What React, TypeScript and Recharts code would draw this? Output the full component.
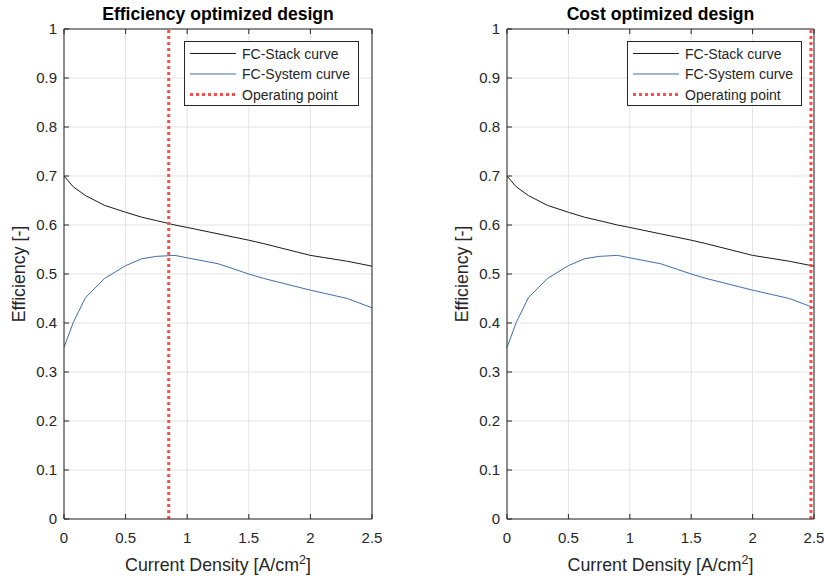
import React from 'react';
import {
  LineChart,
  Line,
  XAxis,
  YAxis,
  CartesianGrid,
  Legend,
  Label,
} from 'recharts';

// current density samples [A/cm2], shared by both panels
const currentDensity = [0, 0.075, 0.175, 0.33, 0.5, 0.63, 0.75, 0.9, 1.0, 1.25, 1.5, 1.62, 2.0, 2.3, 2.5];
const stackEff = [0.7, 0.678, 0.66, 0.64, 0.626, 0.616, 0.609, 0.6, 0.595, 0.582, 0.569, 0.562, 0.538, 0.526, 0.516];
const systemEff = [0.35, 0.401, 0.452, 0.491, 0.517, 0.531, 0.536, 0.538, 0.533, 0.521, 0.5, 0.491, 0.467, 0.45, 0.431];

const panelTitles = ['Efficiency optimized design', 'Cost optimized design'];
const operatingPoints = [0.85, 2.475];
const operatingSpan = [0, 1];

const xTicks = [0, 0.5, 1, 1.5, 2, 2.5];
const yTicks = [0, 0.1, 0.2, 0.3, 0.4, 0.5, 0.6, 0.7, 0.8, 0.9, 1];

const FONT = '"Liberation Sans", Arial, Helvetica, sans-serif';
const AXIS = '#262626';
const GRID = '#e3e3e3';

const curveData = currentDensity.map((x, i) => ({ x, stack: stackEff[i], system: systemEff[i] }));

const LeftTick = (p: any) => (
  <g>
    <line x1={p.x} x2={p.x + 5} y1={p.y} y2={p.y} stroke={AXIS} />
    <text x={p.x - 7} y={p.y + 5} textAnchor="end" fontSize={15} fill={AXIS} fontFamily={FONT}>
      {String(p.payload.value)}
    </text>
  </g>
);

const BottomTick = (p: any) => (
  <g>
    <line x1={p.x} x2={p.x} y1={p.y} y2={p.y - 5} stroke={AXIS} />
    <text x={p.x} y={p.y + 24} textAnchor="middle" fontSize={15} fill={AXIS} fontFamily={FONT}>
      {String(p.payload.value)}
    </text>
  </g>
);

const RightTick = (p: any) => <line x1={p.x} x2={p.x - 5} y1={p.y} y2={p.y} stroke={AXIS} />;
const TopTick = (p: any) => <line x1={p.x} x2={p.x} y1={p.y} y2={p.y + 5} stroke={AXIS} />;

const LegendBox = ({ payload }: any) => (
  <div style={{ border: `1px solid ${AXIS}`, background: '#fff', width: 175, height: 65, boxSizing: 'border-box' }}>
    <svg width={173} height={63} style={{ display: 'block' }}>
      {(payload || []).map((e: any, i: number) => {
        const y = 11.5 + i * 20.5;
        return (
          <g key={e.value}>
            <line
              x1={5}
              x2={51}
              y1={y}
              y2={y}
              stroke={e.color}
              strokeWidth={e.payload?.strokeWidth || 1}
              strokeDasharray={e.payload?.strokeDasharray}
            />
            <text x={57} y={y + 5} fontSize={14} fill={AXIS} fontFamily={FONT}>
              {e.value}
            </text>
          </g>
        );
      })}
    </svg>
  </div>
);

function Panel({ title, op, marginLeft, marginRight, legendLeft }: any) {
  const opData = operatingSpan.map((y) => ({ x: op, y }));
  return (
    <LineChart
      width={412}
      height={580}
      data={curveData}
      margin={{ top: 28, right: marginRight, bottom: 60, left: marginLeft }}
    >
      <CartesianGrid stroke={GRID} />
      <XAxis
        type="number"
        dataKey="x"
        domain={[0, 2.5]}
        ticks={xTicks}
        interval={0}
        height={1}
        tickSize={0}
        tickMargin={0}
        tickLine={false}
        tick={BottomTick}
        axisLine={{ stroke: AXIS }}
      >
        <Label
          content={({ viewBox }: any) => (
            <text
              x={viewBox.x + viewBox.width / 2}
              y={viewBox.y + 52}
              textAnchor="middle"
              fontSize={17.8}
              fill={AXIS}
              fontFamily={FONT}
            >
              Current Density [A/cm
              <tspan fontSize={12.5} dy={-7}>2</tspan>
              <tspan dy={7}>]</tspan>
            </text>
          )}
        />
      </XAxis>
      <XAxis
        xAxisId="top"
        orientation="top"
        type="number"
        dataKey="x"
        domain={[0, 2.5]}
        ticks={xTicks}
        interval={0}
        height={1}
        tickSize={0}
        tickMargin={0}
        tickLine={false}
        tick={TopTick}
        axisLine={{ stroke: AXIS }}
      >
        <Label
          content={({ viewBox }: any) => (
            <text
              x={viewBox.x + viewBox.width / 2}
              y={viewBox.y + viewBox.height - 9}
              textAnchor="middle"
              fontSize={17.6}
              fontWeight="bold"
              fill="#000"
              fontFamily={FONT}
            >
              {title}
            </text>
          )}
        />
      </XAxis>
      <YAxis
        type="number"
        domain={[0, 1]}
        ticks={yTicks}
        interval={0}
        width={1}
        tickSize={0}
        tickMargin={0}
        tickLine={false}
        tick={LeftTick}
        axisLine={{ stroke: AXIS }}
      >
        <Label
          content={({ viewBox }: any) => {
            const cx = viewBox.x + viewBox.width - 39;
            const cy = viewBox.y + viewBox.height / 2;
            return (
              <text
                x={cx}
                y={cy}
                transform={`rotate(-90 ${cx} ${cy})`}
                textAnchor="middle"
                fontSize={17.8}
                fill={AXIS}
                fontFamily={FONT}
              >
                Efficiency [-]
              </text>
            );
          }}
        />
      </YAxis>
      <YAxis
        yAxisId="right"
        orientation="right"
        type="number"
        domain={[0, 1]}
        ticks={yTicks}
        interval={0}
        width={1}
        tickSize={0}
        tickMargin={0}
        tickLine={false}
        tick={RightTick}
        axisLine={{ stroke: AXIS }}
      />
      <Legend
        layout="horizontal"
        align="center"
        verticalAlign="middle"
        wrapperStyle={{ left: legendLeft, top: 41, width: 175, height: 65 }}
        content={LegendBox}
      />
      <Line
        dataKey="stack"
        name="FC-Stack curve"
        stroke="#1a1a1a"
        strokeWidth={1}
        dot={false}
        activeDot={false}
        isAnimationActive={false}
      />
      <Line
        dataKey="system"
        name="FC-System curve"
        stroke="#3f6ea6"
        strokeWidth={1}
        dot={false}
        activeDot={false}
        isAnimationActive={false}
      />
      <Line
        data={opData}
        dataKey="y"
        name="Operating point"
        stroke="#ff4a4a"
        strokeWidth={3}
        strokeDasharray="3 3"
        dot={false}
        activeDot={false}
        isAnimationActive={false}
      />
    </LineChart>
  );
}

export default function App() {
  return (
    <div
      style={{
        position: 'absolute',
        left: 0,
        top: 0,
        width: 824,
        height: 580,
        background: '#fff',
        fontFamily: FONT,
      }}
    >
      <div style={{ position: 'absolute', left: 0, top: 0 }}>
        <Panel title={panelTitles[0]} op={operatingPoints[0]} marginLeft={63} marginRight={39} legendLeft={184} />
      </div>
      <div style={{ position: 'absolute', left: 412, top: 0 }}>
        <Panel title={panelTitles[1]} op={operatingPoints[1]} marginLeft={94} marginRight={9} legendLeft={215} />
      </div>
    </div>
  );
}
